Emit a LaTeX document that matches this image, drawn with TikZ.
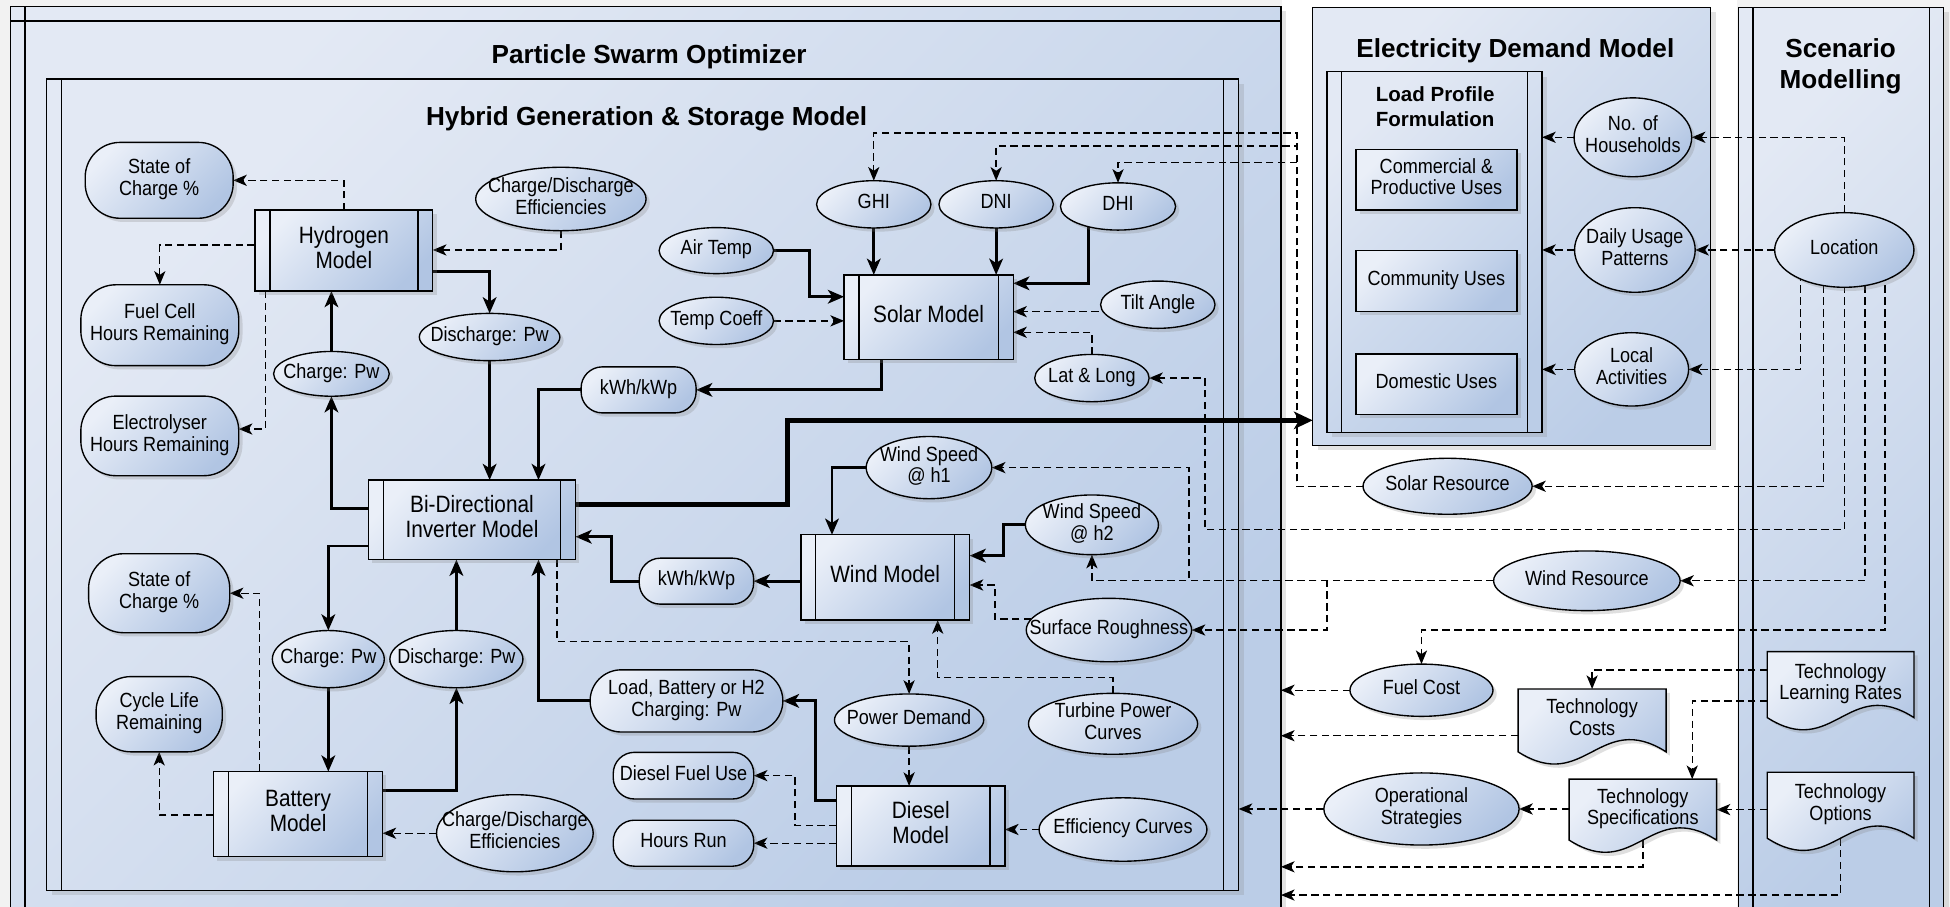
\documentclass[tikz,border=0pt]{standalone}
\usepackage{fontspec}
\setmainfont{Liberation Sans}
\newfontfamily\narrowsf{Liberation Sans}[FakeStretch=0.88]
\usepackage{tikz}
\usetikzlibrary{shapes.geometric,arrows.meta,shadows,calc}
\pgfdeclarelayer{background layer}
\pgfdeclarelayer{box layer}
\pgfdeclarelayer{edge layer}
\pgfdeclarelayer{doc layer}
\pgfsetlayers{background layer,box layer,edge layer,doc layer,main}
\definecolor{nodeA}{HTML}{EAEFF8}
\definecolor{nodeB}{HTML}{B1C5E3}
\definecolor{panelA}{HTML}{E3E9F4}
\definecolor{panelB}{HTML}{BBCDE7}
\definecolor{pageback}{HTML}{F2F2F2}
\newcommand\nodefont{\narrowsf\fontsize{16.5}{17.5}\selectfont}
\newcommand\procfont{\narrowsf\fontsize{19}{20}\selectfont}
\newcommand\headfont{\bfseries\fontsize{21}{25}\selectfont}
\newcommand\boxtext[1]{\makebox[0pt]{\raisebox{\dimexpr(\depth-\height)/2\relax}[0pt][0pt]{\begin{tabular}{@{}c@{}}#1\end{tabular}}}}
\newcommand\docshape[1]{%
  \begin{pgfonlayer}{doc layer}
  \path[docfill] (#1.north west) -- (#1.north east) -- (#1.south east)
    .. controls ($(#1.south east)!0.45!(#1.south west)+(0,-34)$) and ($(#1.south west)!0.45!(#1.south east)+(0,34)$) .. (#1.south west) -- cycle;
  \end{pgfonlayer}}

\begin{document}
\begin{tikzpicture}[x=1pt,y=-1pt,
  every node/.style={inner sep=0pt,outer sep=0pt,font=\nodefont},
  wh/.style 2 args={minimum width=#1pt,minimum height=#2pt},
  fillshade/.style={top color=nodeA,bottom color=nodeB,shading angle=45},
  shadowed/.style={drop shadow={shadow xshift=3pt,shadow yshift=-3pt,opacity=0.25}},
  rectbox/.style={rectangle,draw,line width=1.1pt,fillshade,shadowed},
  ell/.style={ellipse,draw,line width=1.1pt,fillshade,shadowed},
  term/.style={rectbox,rounded corners=#1},
  term/.default=17pt,
  sidebars/.style={path picture={
    \draw[line width=1.1pt] ([xshift=#1]path picture bounding box.north west) -- ([xshift=#1]path picture bounding box.south west)
      ([xshift=-#1]path picture bounding box.north east) -- ([xshift=-#1]path picture bounding box.south east);}},
  sidebars/.default=12pt,
  ltbars/.style={path picture={
    \draw[line width=1.1pt] ([xshift=11.5pt]path picture bounding box.north west) -- ([xshift=11.5pt]path picture bounding box.south west)
      ([yshift=-12pt]path picture bounding box.north west) -- ([yshift=-12pt]path picture bounding box.north east);}},
  proc/.style={rectbox,sidebars,font=\procfont},
  docbody/.style={rectangle},
  docfill/.style={draw,line width=1.1pt,fillshade,shadowed},
  panel/.style={rectangle,draw,line width=1.1pt,top color=panelA,bottom color=panelB,shading angle=45,
    drop shadow={shadow xshift=4pt,shadow yshift=-4pt,opacity=0.22}},
  head/.style={font=\headfont,align=center},
  subhead/.style={font=\bfseries\fontsize{16.5}{19.8}\selectfont,align=center},
  sline/.style={line width=2.3pt,-{Stealth[length=13pt,width=11pt,inset=3.5pt]}},
  bigline/.style={line width=4pt,-{Stealth[length=15pt,width=14pt,inset=4pt]}},
  dline/.style={line width=1.1pt,dash pattern=on 6pt off 3.5pt,-{Stealth[length=11pt,width=9pt,inset=3pt]}}]
\useasboundingbox (0,0) rectangle (1568,729);

\begin{pgfonlayer}{background layer}
\fill[pageback] (0,0) rectangle (1568,729);
\fill[white] (1031,0) rectangle (1397,729);
\end{pgfonlayer}

% containers
\begin{pgfonlayer}{box layer}
\node[panel,ltbars,wh={1021.5}{740}] (pso) at (519.25,375) {};
\node[panel,sidebars,wh={958.5}{652.5}] (hgsm) at (516.75,389.75) {};
\node[panel,wh={320}{352}] (edm) at (1215.5,182) {};
\node[panel,sidebars=11.5pt,wh={173}{290}] (lpf) at (1153.5,202.6) {};
\node[panel,sidebars=11.5pt,wh={165}{739}] (scen) at (1480.5,375.5) {};
\end{pgfonlayer}
\node[head] (psotitle) at (522,45.5) {Particle Swarm Optimizer};
\node[head] (hgsmtitle) at (520,95.5) {Hybrid Generation \& Storage Model};
\node[head] (edmtitle) at (1218.5,41) {Electricity Demand Model};
\node[subhead] (lpftitle) at (1154,86) {Load Profile\\Formulation};
\node[head] (scentitle) at (1480,53.5) {Scenario\\Modelling};

% hydrogen and inverter
\node[term=28pt,wh={119}{61}] (soc1) at (128,145) {\boxtext{State of\\Charge \%}};
\node[proc,wh={143}{65}] (h2mod) at (276.5,201.5) {\boxtext{Hydrogen\\Model}};
\node[ell,wh={137}{51}] (cde1) at (451,160) {\boxtext{Charge/Discharge\\Efficiencies}};
\node[term=28pt,wh={127}{65}] (fuelhr) at (128.5,261.5) {\boxtext{Fuel Cell\\Hours Remaining}};
\node[term=28pt,wh={127}{64}] (elechr) at (128.5,350.5) {\boxtext{Electrolyser\\Hours Remaining}};
\node[ell,wh={93}{36}] (chg1) at (266.5,300.6) {\boxtext{Charge: Pw}};
\node[ell,wh={113}{38}] (dis1) at (393.7,271) {\boxtext{Discharge: Pw}};
\node[proc,wh={166.5}{64}] (inv) at (379.5,418) {\boxtext{Bi-Directional\\Inverter Model}};

% battery
\node[term=28pt,wh={113.5}{63.5}] (soc2) at (128,477) {\boxtext{State of\\Charge \%}};
\node[term=28pt,wh={101.5}{60.5}] (cyc) at (128,574.3) {\boxtext{Cycle Life\\Remaining}};
\node[ell,wh={90}{46}] (chg2) at (264,530) {\boxtext{Charge: Pw}};
\node[ell,wh={107}{46}] (dis2) at (367,530) {\boxtext{Discharge: Pw}};
\node[proc,wh={135.8}{68.5}] (batt) at (239.7,654.7) {\boxtext{Battery\\Model}};
\node[ell,wh={126}{62}] (cde2) at (414,670) {\boxtext{Charge/Discharge\\Efficiencies}};

% solar
\node[ell,wh={92}{38}] (ghi) at (702.6,164.3) {\boxtext{GHI}};
\node[ell,wh={92}{38}] (dni) at (801,164.3) {\boxtext{DNI}};
\node[ell,wh={92.6}{38}] (dhi) at (899,166) {\boxtext{DHI}};
\node[ell,wh={92}{37}] (airt) at (576,201.5) {\boxtext{Air Temp}};
\node[ell,wh={92}{38}] (tcoef) at (576,258) {\boxtext{Temp Coeff}};
\node[proc,wh={136}{68}] (solar) at (746.7,255) {\boxtext{Solar Model}};
\node[ell,wh={92}{38}] (tilt) at (931,245) {\boxtext{Tilt Angle}};
\node[ell,wh={92}{38}] (latlong) at (878,304) {\boxtext{Lat \& Long}};
\node[term,wh={92.5}{37}] (kwhs) at (513.5,313.5) {\boxtext{kWh/kWp}};

% wind
\node[ell,wh={101}{50}] (wsh1) at (747,376) {\boxtext{Wind Speed\\@ h1}};
\node[ell,wh={107}{48}] (wsh2) at (878,422) {\boxtext{Wind Speed\\@ h2}};
\node[proc,wh={135.7}{68.6}] (wind) at (711.8,464.3) {\boxtext{Wind Model}};
\node[term,wh={92}{37}] (kwhw) at (560,467.3) {\boxtext{kWh/kWp}};
\node[ell,wh={133}{51}] (surfr) at (891.7,506.6) {\boxtext{Surface Roughness}};
\node[ell,wh={136}{49}] (turb) at (895,582) {\boxtext{Turbine Power\\Curves}};

% diesel
\node[term=25pt,wh={155}{50}] (loadch) at (552,563.6) {\boxtext{Load, Battery or H2\\Charging: Pw}};
\node[ell,wh={120}{42}] (pdem) at (731,579) {\boxtext{Power Demand}};
\node[term,wh={113}{37.5}] (dfuel) at (549.6,623.7) {\boxtext{Diesel Fuel Use}};
\node[term,wh={113}{37}] (hrun) at (549.6,678) {\boxtext{Hours Run}};
\node[proc,wh={135.3}{64.4}] (diesel) at (740.4,664.2) {\boxtext{Diesel\\Model}};
\node[ell,wh={135}{51}] (effc) at (903,667) {\boxtext{Efficiency Curves}};

% demand model
\node[rectbox,wh={129.6}{49}] (comm) at (1155,144.5) {\boxtext{Commercial \&\\Productive Uses}};
\node[rectbox,wh={129.6}{49}] (cuse) at (1155,226) {\boxtext{Community Uses}};
\node[rectbox,wh={129.6}{49}] (duse) at (1155,309) {\boxtext{Domestic Uses}};
\node[ell,wh={94.6}{63.4}] (hh) at (1313,110.4) {\boxtext{No. of\\Households}};
\node[ell,wh={97}{68}] (daily) at (1314.6,201) {\boxtext{Daily Usage\\Patterns}};
\node[ell,wh={91.6}{59}] (local) at (1312,297) {\boxtext{Local\\Activities}};
\node[ell,wh={112}{60}] (loc) at (1483,201) {\boxtext{Location}};

% resources and technology
\node[ell,wh={136}{45}] (solres) at (1164,391) {\boxtext{Solar Resource}};
\node[ell,wh={150}{48}] (windres) at (1276,467) {\boxtext{Wind Resource}};
\node[ell,wh={115}{42}] (fuel) at (1143,555) {\boxtext{Fuel Cost}};
\node[docbody,wh={119}{50.5}] (tcost) at (1280.2,579.3) {\boxtext{Technology\\Costs}};
\node[docbody,wh={118}{53}] (tlr) at (1480,550.5) {\boxtext{Technology\\Learning Rates}};
\node[ell,wh={157}{58}] (opst) at (1143,650.5) {\boxtext{Operational\\Strategies}};
\node[docbody,wh={118.6}{49}] (tspec) at (1321,651) {\boxtext{Technology\\Specifications}};
\node[docbody,wh={118}{53}] (topt) at (1480,647.5) {\boxtext{Technology\\Options}};
\docshape{tcost}
\docshape{tlr}
\docshape{tspec}
\docshape{topt}

\begin{pgfonlayer}{edge layer}
% hydrogen
\draw[dline] (h2mod.north) |- (soc1.east);
\draw[dline] (h2mod.west |- 0,197) -| (fuelhr.north);
\draw[dline] (h2mod.south -| 213.5,0) |- (elechr.east |- 0,345);
\draw[dline] (cde1.south) |- (h2mod.east |- 0,201);
\draw[sline] (h2mod.east |- 0,218.5) -| (dis1.north);
\draw[sline] (chg1.north) -- (h2mod.south -| chg1.north);
\draw[sline] (inv.west |- 0,408.8) -| (chg1.south);
\draw[sline] (dis1.south) -- (inv.north -| dis1.south);
\draw[sline] (kwhs.west) -| (inv.north -| 433,0);
\draw[sline] (solar.south -| 708.5,0) |- (kwhs.east);
\draw[bigline] (inv.east |- 0,406) -| (633,338) -- (edm.west |- 0,338);
% battery
\draw[sline] (inv.west |- 0,439) -| (chg2.north);
\draw[sline] (dis2.north) -- (inv.south -| dis2.north);
\draw[sline] (chg2.south) -- (batt.north -| chg2.south);
\draw[sline] (batt.east |- 0,635.8) -| (dis2.south);
\draw[dline] (batt.north -| 208.5,0) |- (soc2.east);
\draw[dline] (batt.west |- 0,655.4) -| (cyc.south);
\draw[dline] (cde2.west) -- (batt.east |- cde2.west);
% wind
\draw[sline] (kwhw.west) -| (492,431.6) -- (inv.east |- 0,431.6);
\draw[sline] (wind.west |- kwhw.east) -- (kwhw.east);
\draw[sline] (wsh1.west) -| (wind.north -| 669,0);
\draw[sline] (wsh2.west) -| (806.6,446.8) -- (wind.east |- 0,446.8);
\draw[dline] (surfr.172) -| (800,470.4) -- (wind.east |- 0,470.4);
\draw[dline] (turb.north) |- (754,545) -- (wind.south -| 754,0);
% diesel
\draw[sline] (loadch.west) -| (inv.south -| 433,0);
\draw[sline] (diesel.west |- 0,643.8) -| (655.4,563.6) -- (loadch.east);
\draw[dline] (inv.south -| 448,0) |- (pdem.north |- 0,516) -- (pdem.north);
\draw[dline] (pdem.south) -- (diesel.north -| pdem.south);
\draw[dline] (diesel.west |- 0,664) -| (639.3,623.7) -- (dfuel.east);
\draw[dline] (diesel.west |- hrun.east) -- (hrun.east);
\draw[dline] (effc.west) -- (diesel.east |- effc.west);
% solar
\draw[sline] (ghi.south) -- (solar.north -| ghi.south);
\draw[sline] (dni.south) -- (solar.north -| dni.south);
\draw[sline] (dhi.center -| 875.5,0) |- (solar.east |- 0,227.8);
\draw[sline] (airt.east) -| (650.6,238.6) -- (solar.west |- 0,238.6);
\draw[dline] (tcoef.east) -- (solar.west |- tcoef.east);
\draw[dline] (tilt.center |- 0,250.6) -- (solar.east |- 0,250.6);
\draw[dline] (latlong.north) |- (solar.east |- 0,267.2);
\draw[dline] (solres.west) -| (1043,107) -| (ghi.north);
\draw[dline] (solres.west) -| (1043,117.5) -| (dni.north);
\draw[dline] (solres.west) -| (1043,130.6) -| (dhi.north);
% demand and scenario
\draw[dline] (hh.west) -- (lpf.east |- hh.west);
\draw[dline] (daily.west) -- (lpf.east |- daily.west);
\draw[dline] (local.west) -- (lpf.east |- local.west);
\draw[dline] (loc.north) |- (hh.east);
\draw[dline] (loc.west) -- (daily.east);
\draw[dline] (loc.center -| 1448,0) |- (local.east);
\draw[dline] (loc.center -| 1466.5,0) |- (solres.east);
\draw[dline] (loc.center) |- (969,426) |- (latlong.east);
\draw[dline] (loc.center -| 1499.7,0) |- (windres.east);
\draw[dline] (loc.center -| 1515.8,0) |- (fuel.north |- 0,506.6) -- (fuel.north);
\draw[dline] (windres.west) -| (956,376) -- (wsh1.east);
\draw[dline] (windres.west) -| (wsh2.south);
\draw[dline] (windres.west) -| (1067,506.6) -- (surfr.east);
% costs and options
\draw[dline] (fuel.west) -- (pso.east |- fuel.west);
\draw[dline] (tcost.west |- 0,591.6) -- (pso.east |- 0,591.6);
\draw[dline] (opst.west) -- (hgsm.east |- opst.west);
\draw[dline] (tspec.west |- opst.east) -- (opst.east);
\draw[dline] (tspec.south) |- (pso.east |- 0,697);
\draw[dline] (topt.west |- 0,651) -- (tspec.east |- 0,651);
\draw[dline] (topt.south) |- (pso.east |- 0,719.7);
\draw[dline] (tlr.west |- 0,538.8) -| (tcost.north);
\draw[dline] (tlr.west |- 0,563.7) -| (tspec.north -| 1360.7,0);
\end{pgfonlayer}
\end{tikzpicture}
\end{document}
